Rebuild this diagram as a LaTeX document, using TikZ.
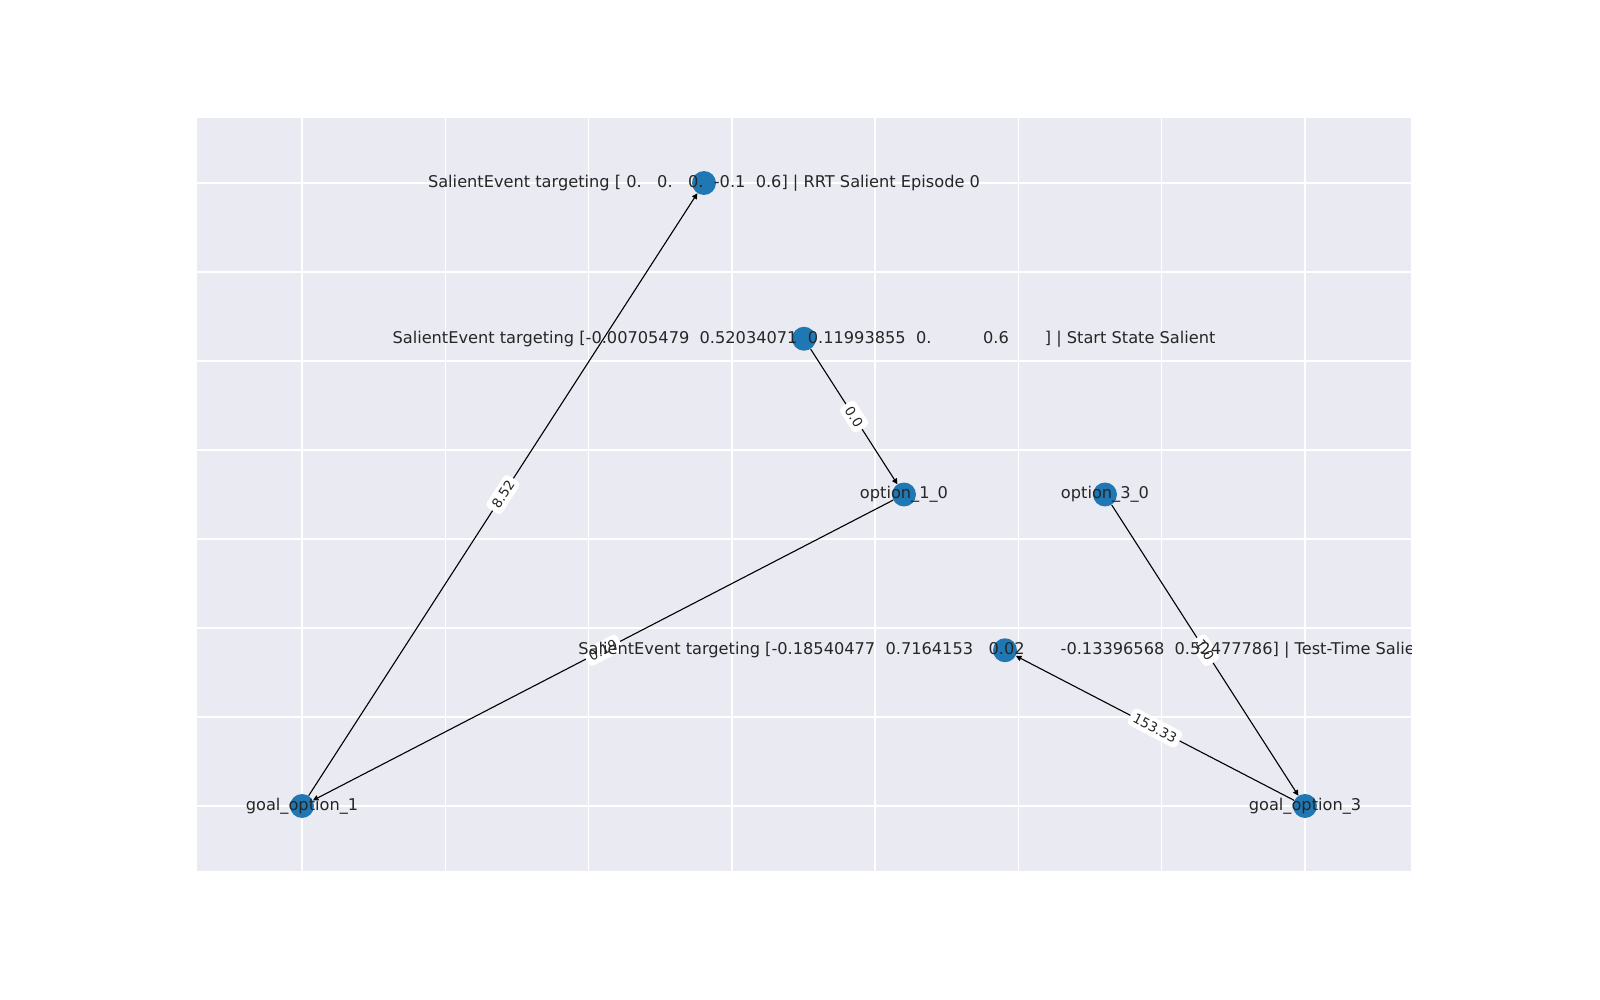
\documentclass[tikz,border=0pt]{standalone}
\usepackage{fontspec}
\setmainfont{DejaVu Sans}
\usepackage{tikz}
\usetikzlibrary{arrows.meta, positioning}

\definecolor{axbg}{HTML}{EAEAF2}
\definecolor{nodeblue}{HTML}{1F78B4}

\begin{document}
\begin{tikzpicture}[x=0.01in, y=-0.01in,
		>={Triangle[length=4pt, width=4pt]},
		vertex/.style={circle, fill=nodeblue, inner sep=0pt, minimum size=17.3pt},
		vlabel/.style={font=\fontsize{11.7}{14}\selectfont, text=black!85, inner sep=0pt},
		wlabel/.style={font=\fontsize{9.7}{11}\selectfont, text=black!85, fill=white, rounded corners=3pt, inner sep=3pt, sloped, midway},
		link/.style={->, line width=0.8pt, black}]

	\useasboundingbox[fill=white] (0,0) rectangle (1600,1000);
	\fill[axbg] (197,118) rectangle (1411,871);
	\foreach \i in {0,...,7} {
		\draw[white, line width=1pt] ({302+143.29*\i},118) -- ({302+143.29*\i},871);
		\draw[white, line width=1pt] (197,{183+89*\i}) -- (1411,{183+89*\i});
	}

	% nodes
	\node[vertex] (rrt) at (704,183) {};
	\node[vertex] (start) at (804,338.75) {};
	\node[vertex] (opt1) at (904,494.5) {};
	\node[vertex] (opt3) at (1105,494.5) {};
	\node[vertex] (test) at (1005,650.25) {};
	\node[vertex] (goal1) at (302,806) {};
	\node[vertex] (goal3) at (1305,806) {};

	% edges
	\draw[link] (goal1) -- (rrt) node[wlabel] (w1) {8.52};
	\draw[link] (start) -- (opt1) node[wlabel] (w2) {0.0};
	\draw[link] (opt1) -- (goal1) node[wlabel] (w3) {0.19};
	\draw[link] (opt3) -- (goal3) node[wlabel] (w4) {1.0};
	\draw[link] (goal3) -- (test) node[wlabel] (w5) {153.33};

	% labels
	\begin{scope}
		\clip (197,118) rectangle (1411,871);
		\node[vlabel] (rrt-l) at (rrt) {SalientEvent targeting [ 0.~~~0.~~~0.~~-0.1~~0.6] | RRT Salient Episode 0};
		\node[vlabel] (start-l) at (start) {SalientEvent targeting [-0.00705479~~0.52034071~~0.11993855~~0.~~~~~~~~~~0.6~~~~~~~] | Start State Salient};
		\node[vlabel] (opt1-l) at (opt1) {option\_1\_0};
		\node[vlabel] (opt3-l) at (opt3) {option\_3\_0};
		\node[vlabel] (test-l) at (test) {SalientEvent targeting [-0.18540477~~0.7164153~~~0.02~~~~~~~-0.13396568~~0.52477786] | Test-Time Salient};
		\node[vlabel] (goal1-l) at (goal1) {goal\_option\_1};
		\node[vlabel] (goal3-l) at (goal3) {goal\_option\_3};
	\end{scope}
\end{tikzpicture}
\end{document}
